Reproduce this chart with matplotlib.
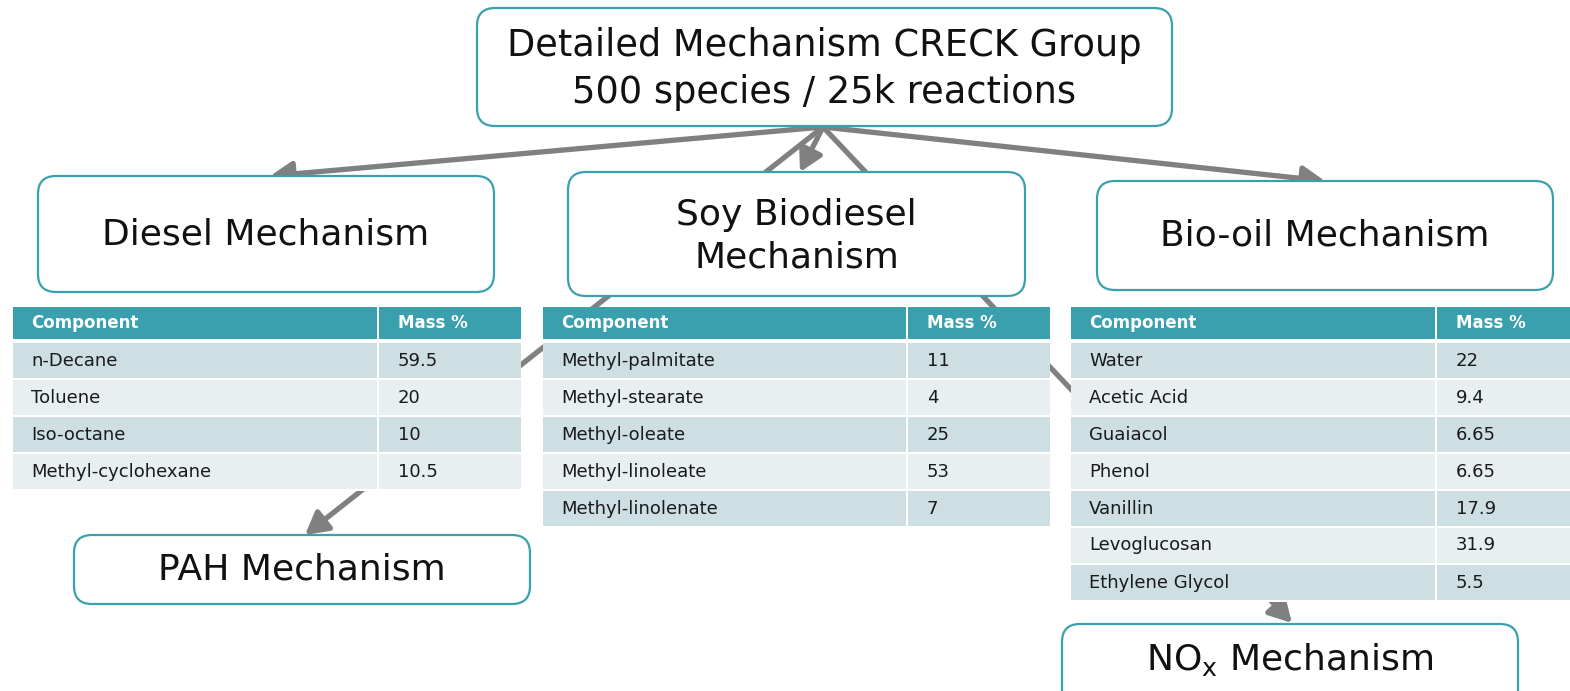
import matplotlib
matplotlib.use("Agg")
import matplotlib.pyplot as plt
from matplotlib.patches import FancyBboxPatch, Rectangle, FancyArrowPatch

# --- content ---
top_label = "Detailed Mechanism CRECK Group\n500 species / 25k reactions"
box_labels = ["Diesel Mechanism", "Soy Biodiesel\nMechanism", "Bio-oil Mechanism",
              "PAH Mechanism", "NO$_\\mathregular{x}$ Mechanism"]

diesel_comp = ["n-Decane", "Toluene", "Iso-octane", "Methyl-cyclohexane"]
diesel_mass = ["59.5", "20", "10", "10.5"]
soy_comp = ["Methyl-palmitate", "Methyl-stearate", "Methyl-oleate",
            "Methyl-linoleate", "Methyl-linolenate"]
soy_mass = ["11", "4", "25", "53", "7"]
bio_comp = ["Water", "Acetic Acid", "Guaiacol", "Phenol", "Vanillin",
            "Levoglucosan", "Ethylene Glycol"]
bio_mass = ["22", "9.4", "6.65", "6.65", "17.9", "31.9", "5.5"]
header = ["Component", "Mass %"]

# --- style ---
TEAL = "#3ba0ad"
ROW_DARK = "#cddfe3"
ROW_LIGHT = "#e7eff1"
GREY = "#808080"
FONT = "DejaVu Sans"

W, H = 1570, 691
fig = plt.figure(figsize=(W / 100, H / 100), dpi=100)
ax = fig.add_axes([0, 0, 1, 1])
ax.set_xlim(0, W)
ax.set_ylim(H, 0)
ax.axis("off")


def box(x, y, w, h, text, cy=None, fs=26):
    p = FancyBboxPatch((x, y), w, h, boxstyle="round,pad=0,rounding_size=18",
                       fc="white", ec=TEAL, lw=1.6, zorder=3)
    ax.add_patch(p)
    if cy is None:
        cy = y + h / 2
    ax.text(x + w / 2, cy, text, ha="center", va="center", fontsize=fs,
            family=FONT, color="#111111", linespacing=1.33, zorder=4)


def table(x0, xs, x1, comps, vals):
    y0 = 307
    hh = 32
    rh = 37
    n = len(comps)
    # white backing so lines behind the table are hidden
    ax.add_patch(Rectangle((x0, y0), x1 - x0, 343 + rh * n - y0, fc="white",
                           ec="none", zorder=2))
    ax.add_patch(Rectangle((x0, y0), xs - x0 - 1, hh, fc=TEAL, ec="none", zorder=3))
    ax.add_patch(Rectangle((xs + 1, y0), x1 - xs - 1, hh, fc=TEAL, ec="none", zorder=3))
    ax.text(x0 + 18, y0 + hh / 2, header[0], ha="left", va="center", fontsize=12,
            weight="bold", color="white", family=FONT, zorder=4)
    ax.text(xs + 20, y0 + hh / 2, header[1], ha="left", va="center", fontsize=12,
            weight="bold", color="white", family=FONT, zorder=4)
    for i in range(n):
        ry = 343 + rh * i
        c = ROW_DARK if i % 2 == 0 else ROW_LIGHT
        ax.add_patch(Rectangle((x0, ry), xs - x0 - 1, rh - 2, fc=c, ec="none", zorder=3))
        ax.add_patch(Rectangle((xs + 1, ry), x1 - xs - 1, rh - 2, fc=c, ec="none", zorder=3))
        ax.text(x0 + 18, ry + (rh - 2) / 2, comps[i], ha="left", va="center",
                fontsize=13, color="#1a1a1a", family=FONT, zorder=4)
        ax.text(xs + 20, ry + (rh - 2) / 2, vals[i], ha="left", va="center",
                fontsize=13, color="#1a1a1a", family=FONT, zorder=4)


def arrow(a, b):
    ar = FancyArrowPatch(a, b, arrowstyle="-|>,head_length=0.9,head_width=0.5",
                         mutation_scale=15, lw=3.8, color=GREY,
                         shrinkA=0, shrinkB=0, zorder=1)
    ax.add_patch(ar)


# arrows from the detailed mechanism
src = (823, 127)
arrow(src, (270, 176))
arrow(src, (1325, 181))
arrow(src, (800, 172))
arrow(src, (305, 535))
arrow(src, (1292, 623))

# boxes
box(477, 8, 695, 118, top_label, cy=69, fs=26.5)
box(38, 176, 456, 116, box_labels[0])
box(568, 172, 457, 124, box_labels[1], cy=236)
box(1097, 181, 456, 109, box_labels[2])
box(74, 535, 456, 69, box_labels[3])
box(1062, 624, 456, 90, box_labels[4], cy=659)

# tables
table(13, 378, 521, diesel_comp, diesel_mass)
table(543, 907, 1050, soy_comp, soy_mass)
table(1071, 1436, 1575, bio_comp, bio_mass)

fig.savefig("out.png", dpi=100, facecolor="white")
